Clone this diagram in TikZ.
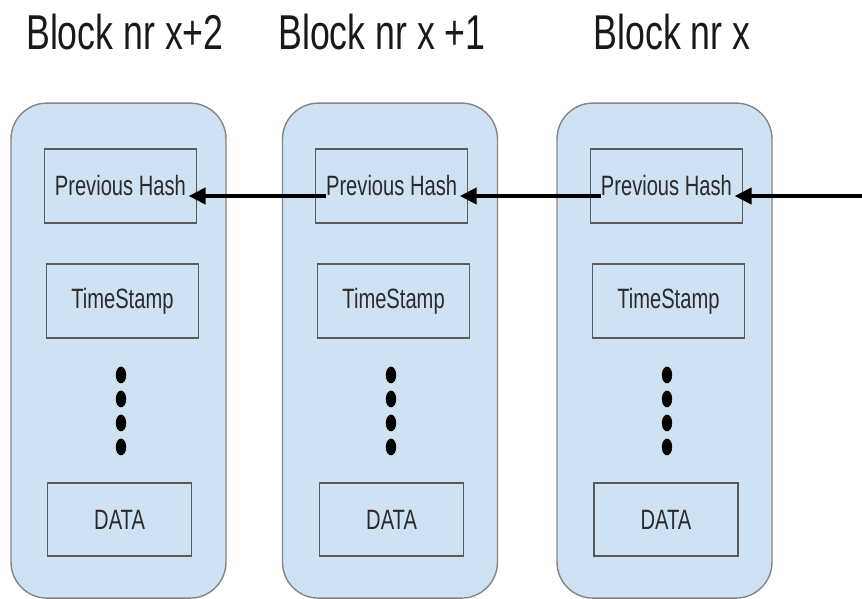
\documentclass[tikz,border=0pt]{standalone}
\usepackage{fontspec}
\setmainfont{Liberation Sans}
\usepackage{graphicx}
\definecolor{blockfill}{HTML}{CFE2F3}
\definecolor{blockline}{HTML}{858585}
\definecolor{fieldline}{HTML}{5A5A5A}
\definecolor{fieldtext}{HTML}{2B2B2B}
\usetikzlibrary{arrows.meta, positioning}
\newcommand{\squeeze}[1]{\scalebox{0.72}[1]{#1}}

\begin{document}
\begin{tikzpicture}[
    block/.style={rectangle, draw=blockline, fill=blockfill, line width=1pt,
        minimum width=5.375cm, minimum height=12.375cm, rounded corners=0.9cm},
    field/.style={rectangle, draw=fieldline, line width=1pt,
        minimum width=3.8cm, minimum height=1.85cm, inner sep=0pt,
        font=\fontsize{19.9}{24}\selectfont, text=fieldtext},
    datafield/.style={field, minimum width=3.6cm, minimum height=1.825cm},
    title/.style={anchor=base, inner sep=0pt,
        font=\fontsize{34.8}{40}\selectfont, text=black!90},
    arr/.style={-{Triangle[length=12pt, width=11.5pt]}, line width=2.6pt, black,
        shorten >=-6pt}
]
\useasboundingbox (0,0) rectangle (21.55,14.975);

% Titles
\node[title] (T1) at (3.125, 13.725) {\scalebox{0.73}[1]{Block nr x+2}};
\node[title] (T2) at (9.55, 13.725) {\scalebox{0.73}[1]{Block nr x +1}};
\node[title] (T3) at (16.8, 13.725) {\scalebox{0.73}[1]{Block nr x}};

% Blocks
\node[block] (B1) at (2.9625, 6.21) {};
\node[block] (B2) at (9.75, 6.21) {};
\node[block] (B3) at (16.6125, 6.21) {};

% Block nr x+2
\node[field] (hash1) at (3.01, 10.325) {\squeeze{Previous Hash}};
\node[field] (time1) at (3.06, 7.45) {\squeeze{TimeStamp}};
\node[datafield] (data1) at (2.99, 1.99) {\squeeze{DATA}};
\foreach \y in {5.6, 5.0, 4.4, 3.8} \fill (3.025, \y) ellipse (0.13 and 0.21);

% Block nr x+1
\node[field] (hash2) at (9.79, 10.325) {\squeeze{Previous Hash}};
\node[field] (time2) at (9.84, 7.45) {\squeeze{TimeStamp}};
\node[datafield] (data2) at (9.79, 1.99) {\squeeze{DATA}};
\foreach \y in {5.6, 5.0, 4.4, 3.8} \fill (9.775, \y) ellipse (0.13 and 0.21);

% Block nr x
\node[field] (hash3) at (16.66, 10.325) {\squeeze{Previous Hash}};
\node[field] (time3) at (16.71, 7.45) {\squeeze{TimeStamp}};
\node[datafield] (data3) at (16.65, 1.99) {\squeeze{DATA}};
\foreach \y in {5.6, 5.0, 4.4, 3.8} \fill (16.675, \y) ellipse (0.13 and 0.21);

% Hash links
\coordinate (incoming) at (21.55, 0);
\draw[arr] (hash2.text) -- (hash2.text -| hash1.east);
\draw[arr] (hash3.text) -- (hash3.text -| hash2.east);
\draw[arr] (incoming |- hash3.text) -- (hash3.text -| hash3.east);

\end{tikzpicture}
\end{document}
